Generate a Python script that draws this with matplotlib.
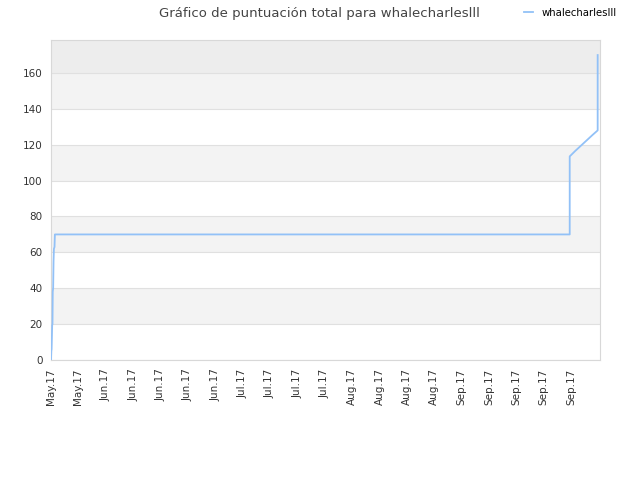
import numpy as np
import matplotlib
matplotlib.use('Agg')
import matplotlib.pyplot as plt

# datos: dias desde el inicio del eje (18 mayo 2017 aprox.) y puntuacion total
dias = [0.0, 0.08, 0.15, 0.22, 0.3, 0.38, 0.45, 0.55, 0.65, 0.75, 0.9, 1.0,
        133.6, 133.6, 135.0, 136.5, 138.0, 139.5, 140.8, 140.8]
puntos = [0, 5, 6, 12, 19.5, 20, 38, 40, 55, 62, 63, 70,
          70, 113.5, 116.5, 119.5, 122.5, 125.5, 128, 170]

etiquetas = ['May.17', 'May.17', 'Jun.17', 'Jun.17', 'Jun.17', 'Jun.17', 'Jun.17',
             'Jul.17', 'Jul.17', 'Jul.17', 'Jul.17', 'Aug.17', 'Aug.17', 'Aug.17',
             'Aug.17', 'Sep.17', 'Sep.17', 'Sep.17', 'Sep.17', 'Sep.17']
paso = 7.05
usuario = 'whalecharleslll'

fig = plt.figure(figsize=(6.4, 4.8), dpi=100)
ax = fig.add_axes([0.0797, 0.25, 0.8578, 0.6667])

ymax = 178.4
# bandas alternas de fondo
for i, y0 in enumerate(range(0, 160, 20)):
    if i % 2 == 1:
        ax.axhspan(y0, y0 + 20, color='#f3f3f3', zorder=0, lw=0)
ax.axhspan(160, ymax, color='#ededed', zorder=0, lw=0)

ax.plot(dias, puntos, color='#92c1f7', lw=1.3, label=usuario, zorder=3)

ax.set_xlim(0, 141.4)
ax.set_ylim(0, ymax)
ax.set_yticks(range(0, 161, 20))
ax.yaxis.grid(True, color='#e0e0e0', lw=0.8)
ax.set_axisbelow(True)
ax.set_xticks(np.arange(len(etiquetas)) * paso)
ax.set_xticklabels(etiquetas, rotation=90)
ax.tick_params(length=0, labelsize=7.5, colors='#333333', pad=6)
for s in ax.spines.values():
    s.set_color('#d8d8d8')

fig.text(0.499, 0.972, 'Gráfico de puntuación total para ' + usuario,
         ha='center', va='center', fontsize=9.5, color='#444444')
ax.legend(loc='center left', bbox_to_anchor=(0.845, 1.085), frameon=False,
          fontsize=7.3, handlelength=0.9, handletextpad=0.8)

fig.savefig('out.png', dpi=100)
